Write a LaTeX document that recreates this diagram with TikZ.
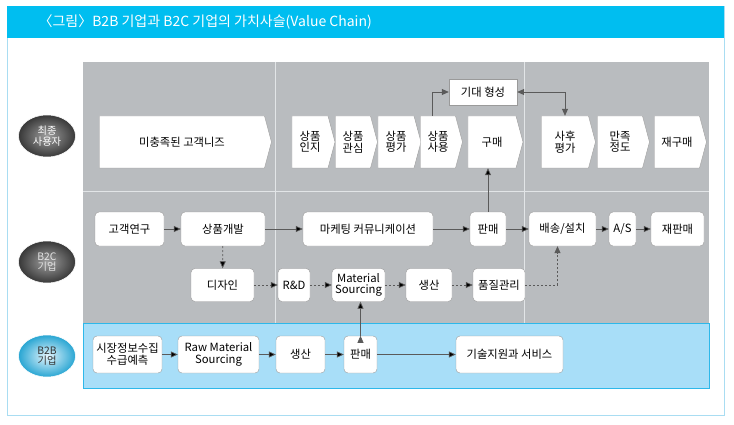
\documentclass[tikz,border=0pt]{standalone}
\usepackage{fontspec}
\setmainfont{Noto Sans CJK KR}
\usetikzlibrary{shapes.symbols,shapes.geometric,arrows.meta}
\definecolor{titlec}{HTML}{00BEF0}
\definecolor{framec}{HTML}{A9DDF2}
\definecolor{panelc}{HTML}{B9BCBF}
\definecolor{sepc}{HTML}{E2E5E7}
\definecolor{bandc}{HTML}{A8DEF8}
\definecolor{bandline}{HTML}{2DB8EA}
\definecolor{linec}{HTML}{5A5A5A}
\definecolor{boxline}{HTML}{9A9A9A}

\begin{document}
\begin{tikzpicture}[x=1pt,y=-1pt,
        font=\fontsize{11.3}{11.5}\selectfont,
        chev/.style={signal,signal to=east,signal pointer angle=150,draw=boxline,fill=white,
            minimum height=52pt,inner sep=0pt,align=center},
        blk/.style={rounded corners=4pt,draw=boxline,fill=white,inner sep=0pt,align=center},
        who/.style={ellipse,minimum width=57pt,minimum height=42pt,inner sep=0pt,align=center,
            draw=white,line width=0.5pt,font=\fontsize{10.3}{10.5}\selectfont},
        flow/.style={draw=linec,line width=0.7pt,-{Triangle[length=7pt,width=6pt]}},
        dflow/.style={flow,dash pattern=on 2pt off 2pt}]
        \useasboundingbox (0,0) rectangle (734,425);
        \draw[framec,line width=0.8pt] (7,6) rectangle (724,415);
        \fill[titlec] (7,6) rectangle (724,38);
        \node[anchor=west,text=white,font=\fontsize{14}{15}\selectfont] at (35,22)(title)
            {〈그림〉B2B 기업과 B2C 기업의 가치사슬(Value Chain)};

        \fill[panelc] (83,62) rectangle (709,323);
        \draw[sepc,line width=0.8pt] (83,191) -- (709,191) (275,62) -- (275,323) (524,62) -- (524,323);
        \filldraw[fill=bandc,draw=bandline,line width=0.6pt] (83,323) rectangle (709,388);

        \node[who,inner color=black!38,outer color=black!78,text=white] at (47,136)(user){최종\\사용자};
        \node[who,inner color=black!38,outer color=black!78,text=white!90!black] at (47,262)(btoc){B2C\\기업};
        \node[who,inner color=bandc!30,outer color=bandline!90!black,text=black!80] at (47,356)(btob){B2B\\기업};

        \node[chev,minimum width=172pt] at (182,142)(need){미충족된 고객니즈};
        \node[chev,minimum width=43pt] at (310,142)(aware){상품\\인지};
        \node[chev,minimum width=42pt] at (353,142)(interest){상품\\관심};
        \node[chev,minimum width=43pt] at (396,142)(eval){상품\\평가};
        \node[chev,minimum width=42pt] at (438,142)(use){상품\\사용};
        \node[chev,minimum width=55pt] at (492,142)(buy){구매};
        \node[chev,minimum width=54pt] at (565,142)(after){사후\\평가};
        \node[chev,minimum width=52pt] at (620,142)(satis){만족\\정도};
        \node[chev,minimum width=52pt] at (677,142)(rebuy){재구매};
        \node[draw=boxline,fill=white,minimum width=68pt,minimum height=26pt,inner sep=0pt] at (483,92)(expect){기대 형성};

        \node[blk,minimum width=69pt,minimum height=34pt] at (129.5,229)(research){고객연구};
        \node[blk,minimum width=84pt,minimum height=34pt] at (223,229)(develop){상품개발};
        \node[blk,minimum width=130pt,minimum height=34pt] at (368,229)(market){마케팅 커뮤니케이션};
        \node[blk,minimum width=36pt,minimum height=34pt] at (488,229)(sellc){판매};
        \node[blk,minimum width=67pt,minimum height=34pt] at (562.5,229)(ship){배송/설치};
        \node[blk,minimum width=27pt,minimum height=34pt] at (622.5,229)(as){A/S};
        \node[blk,minimum width=53pt,minimum height=34pt] at (677.5,229)(resell){재판매};

        \node[blk,minimum width=63pt,minimum height=33pt] at (222.5,285)(design){디자인};
        \node[blk,minimum width=32pt,minimum height=33pt] at (294,285)(rnd){R\&D};
        \node[blk,minimum width=53pt,minimum height=33pt] at (358.5,285)(msrc){Material\\Sourcing};
        \node[blk,minimum width=46pt,minimum height=33pt] at (429,285)(makec){생산};
        \node[blk,minimum width=52pt,minimum height=33pt] at (499,285)(qc){품질관리};

        \node[blk,minimum width=69pt,minimum height=37pt] at (127.5,354.5)(info){시장정보수집\\수급예측};
        \node[blk,minimum width=81pt,minimum height=37pt] at (218.5,354.5)(raw){Raw Material\\Sourcing};
        \node[blk,minimum width=49pt,minimum height=37pt] at (300.5,354.5)(makeb){생산};
        \node[blk,minimum width=33pt,minimum height=37pt] at (360.5,354.5)(sellb){판매};
        \node[blk,minimum width=107pt,minimum height=37pt] at (509.5,354.5)(support){기술지원과 서비스};

        \path[flow]
        (research)edge(develop)
        (develop)edge(market)
        (market)edge(sellc)
        (sellc)edge(ship)
        (ship)edge(as)
        (as)edge(resell)
        (sellc.north)edge(sellc.north |- buy.south)
        (info)edge(raw)
        (raw)edge(makeb)
        (makeb)edge(sellb)
        (sellb)edge(support)
        (sellb.north)edge(sellb.north |- msrc.south)
        ;
        \path[dflow]
        (develop)edge(design)
        (design)edge(rnd)
        (rnd)edge(msrc)
        (msrc)edge(makec)
        (makec)edge(qc)
        ;
        \draw[dflow] (qc.east) -| ([xshift=-5pt]ship.south);
        \draw[flow] ([xshift=-6pt]use.north) |- (expect.west);
        \draw[flow,{Triangle[length=7pt,width=6pt]}-{Triangle[length=7pt,width=6pt]}] (expect.east) -| (after.north);
    \end{tikzpicture}
\end{document}
